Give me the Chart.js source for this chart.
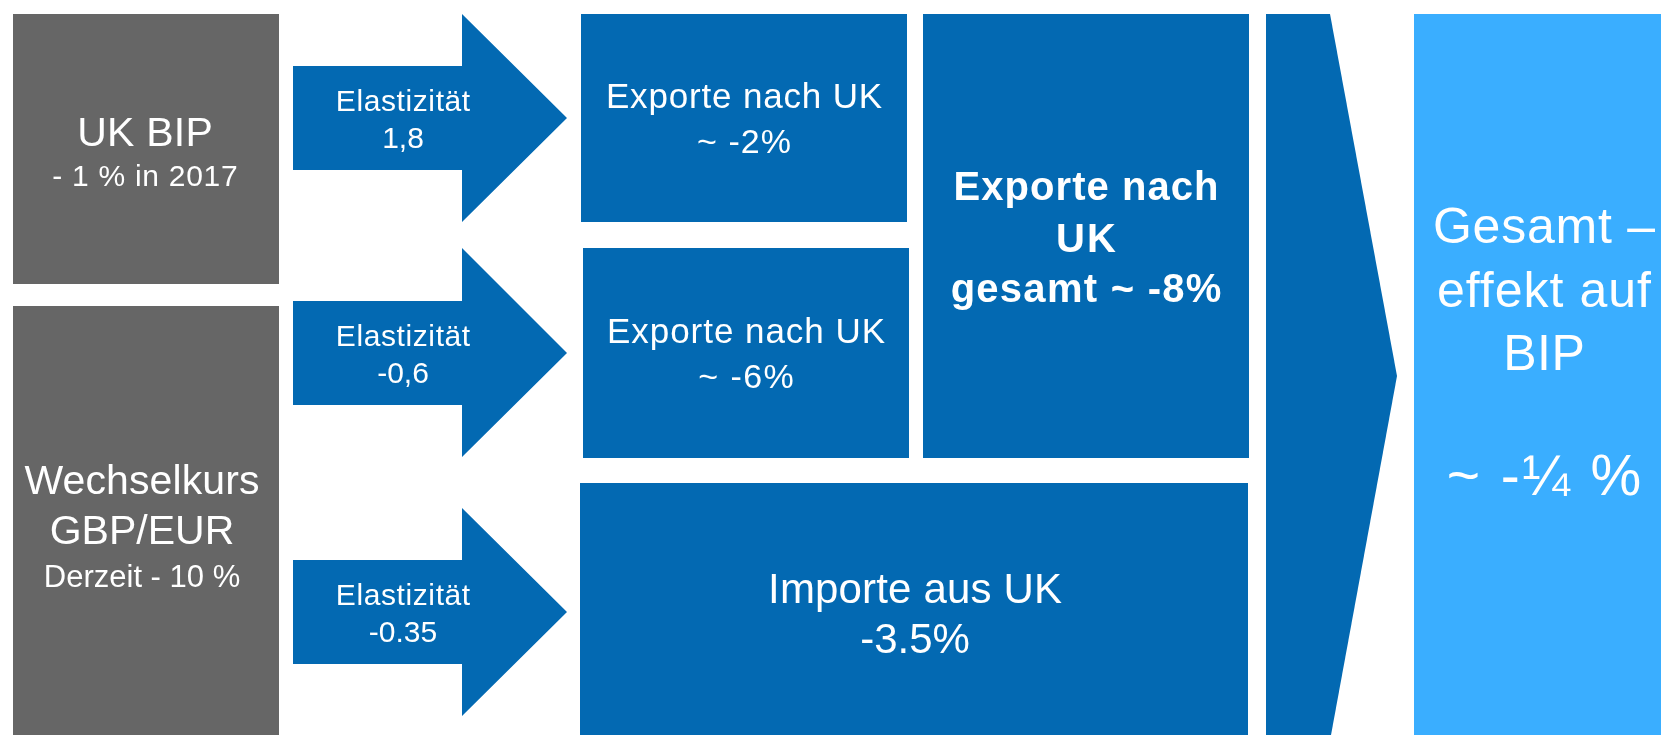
<!DOCTYPE html>
<html>
<head>
<meta charset="utf-8">
<script src="https://cdn.jsdelivr.net/npm/chart.js@4"></script>
<style>
  html, body { margin: 0; padding: 0; background: #fff; }
  canvas { display: block; }
</style>
</head>
<body>
<canvas id="flowChart" width="1661" height="735"></canvas>
<script>
// diagram content
const sourceLabels = [['UK BIP', '- 1 % in 2017'], ['Wechselkurs', 'GBP/EUR', 'Derzeit - 10 %']];
const elasticityLabel = 'Elastizität';
const elasticities = ['1,8', '-0,6', '-0.35'];
const effectLabels = [['Exporte nach UK', '~ -2%'], ['Exporte nach UK', '~ -6%'], ['Importe aus UK', '-3.5%']];
const totalExportLabel = ['Exporte nach', 'UK', 'gesamt ~ -8%'];
const totalEffectLabel = ['Gesamt –', 'effekt auf', 'BIP', '~ -¼ %'];

const GREY = '#666666';
const BLUE = '#0369B2';
const LIGHT = '#3AAEFF';
const FONT = '"Liberation Sans", Arial, sans-serif';

// layout in scale units (x 0..1661, y 0..735 top-down)
// lines: [font size, baseline, target width]
const layout = {
  sources: [
    { box: [13, 14, 279, 284], cx: 145, lines: [[41, 146, 136], [30, 186, 186]] },
    { box: [13, 306, 279, 735], cx: 142, lines: [[41, 494, 235], [41, 544, 176], [31, 587, 196]] }
  ],
  arrows: [
    { shaft: [66, 170], head: [14, 222], tip: 118 },
    { shaft: [301, 405], head: [248, 457], tip: 353 },
    { shaft: [560, 664], head: [508, 716], tip: 612 }
  ],
  arrowX: [293, 462, 567],
  effects: [
    { box: [581, 14, 907, 222], cx: 744, lines: [[35, 108, 277], [34, 153, 95]] },
    { box: [583, 248, 909, 458], cx: 746, lines: [[35, 343, 279], [34, 388, 97]] },
    { box: [580, 483, 1248, 735], cx: 915, lines: [[42, 603, 294], [42, 653, 107]] }
  ],
  totalExport: { box: [923, 14, 1249, 458], cx: 1086, lines: [[40, 200, 266], [40, 252, 62], [40, 302, 272]] },
  chevron: [[1266, 14], [1330, 14], [1397, 376], [1331, 735], [1266, 735]],
  totalEffect: { box: [1414, 14, 1700, 735], cx: 1544, lines: [[50, 243, 223], [50, 307, 215], [50, 370, 82], [57, 495, 197]] }
};

function drawText(ctx, text, x, y, size, width, bold) {
  ctx.save();
  ctx.font = (bold ? 'bold ' : '') + size + 'px ' + FONT;
  ctx.textAlign = 'center';
  ctx.textBaseline = 'alphabetic';
  ctx.fillStyle = '#ffffff';
  const w = ctx.measureText(text).width;
  if (width && 'letterSpacing' in ctx && text.length > 1) {
    // widen with spacing between glyphs, like the original rendering
    const ls = Math.max(0, (width - w) / text.length);
    ctx.letterSpacing = ls.toFixed(2) + 'px';
    ctx.fillText(text, x + ls / 2, y);
  } else {
    const sx = width ? width / w : 1;
    ctx.translate(x, y);
    ctx.scale(sx, 1);
    ctx.fillText(text, 0, 0);
  }
  ctx.restore();
}

const diagramPlugin = {
  id: 'diagram',
  afterDraw(chart) {
    const ctx = chart.ctx;
    const sx = v => chart.scales.x.getPixelForValue(v);
    const sy = v => chart.scales.y.getPixelForValue(v);

    function rect(b, color) {
      ctx.fillStyle = color;
      const x0 = sx(b[0]), y0 = sy(b[1]), x1 = sx(b[2]), y1 = sy(b[3]);
      ctx.fillRect(x0, y0, x1 - x0, y1 - y0);
    }
    function poly(pts, color) {
      ctx.fillStyle = color;
      ctx.beginPath();
      pts.forEach((p, i) => i ? ctx.lineTo(sx(p[0]), sy(p[1])) : ctx.moveTo(sx(p[0]), sy(p[1])));
      ctx.closePath();
      ctx.fill();
    }
    function block(item, texts, bold) {
      texts.forEach((t, i) => {
        const l = item.lines[i];
        drawText(ctx, t, sx(item.cx), sy(l[1]), l[0], l[2], bold);
      });
    }

    ctx.save();
    layout.sources.forEach((s, i) => {
      rect(s.box, GREY);
      block(s, sourceLabels[i]);
    });

    const [ax0, ax1, ax2] = layout.arrowX;
    layout.arrows.forEach((a, i) => {
      poly([
        [ax0, a.shaft[0]], [ax1, a.shaft[0]], [ax1, a.head[0]], [ax2, a.tip],
        [ax1, a.head[1]], [ax1, a.shaft[1]], [ax0, a.shaft[1]]
      ], BLUE);
      drawText(ctx, elasticityLabel, sx(403), sy(a.tip - 7), 30, 135);
      drawText(ctx, elasticities[i], sx(403), sy(a.tip + 30), 30, null);
    });

    layout.effects.forEach((e, i) => {
      rect(e.box, BLUE);
      block(e, effectLabels[i]);
    });

    rect(layout.totalExport.box, BLUE);
    block(layout.totalExport, totalExportLabel, true);

    poly(layout.chevron, BLUE);

    rect(layout.totalEffect.box, LIGHT);
    block(layout.totalEffect, totalEffectLabel);
    ctx.restore();
  }
};

new Chart(document.getElementById('flowChart'), {
  type: 'scatter',
  data: { datasets: [{ data: [] }] },
  options: {
    responsive: false,
    animation: false,
    layout: { padding: 0 },
    plugins: { legend: { display: false }, tooltip: { enabled: false } },
    scales: {
      x: { type: 'linear', min: 0, max: 1661, display: false },
      y: { type: 'linear', min: 0, max: 735, reverse: true, display: false }
    }
  },
  plugins: [diagramPlugin]
});
</script>
</body>
</html>
